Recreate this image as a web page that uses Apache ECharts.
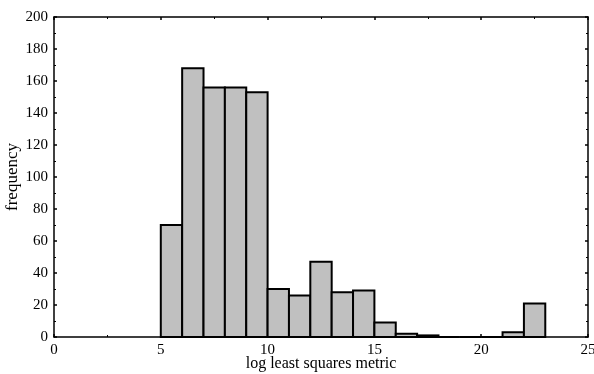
<!DOCTYPE html>
<html>
<head>
<meta charset="utf-8">
<script src="https://cdn.jsdelivr.net/npm/echarts@6/dist/echarts.min.js"></script>
<style>
  html, body { margin: 0; padding: 0; background: #fff; }
  #hist { width: 594px; height: 374px; }
</style>
</head>
<body>
<div id="hist"></div>
<script>
// histogram bins (left edge, width 1) and counts
const binStarts = [5, 6, 7, 8, 9, 10, 11, 12, 13, 14, 15, 16, 17, 18, 19, 20, 21, 22];
const counts = [70, 168, 156, 156, 153, 30, 26, 47, 28, 29, 9, 2, 1, 0, 0, 0, 3, 21];
const binWidth = 1;
const xTicks = [0, 5, 10, 15, 20, 25];
const yTicks = [0, 20, 40, 60, 80, 100, 120, 140, 160, 180, 200];

const chart = echarts.init(document.getElementById('hist'));

const font = 'Liberation Serif';
const frameAxis = {
  axisLine: { show: true, onZero: false, lineStyle: { color: '#000', width: 1.5 } },
  axisTick: { show: true, inside: true, length: 3, lineStyle: { color: '#000', width: 1.5 } },
  minorTick: { show: true, splitNumber: 2, length: 2, lineStyle: { color: '#000', width: 1 } },
  splitLine: { show: false }
};

const histData = binStarts.map((s, i) => [s, s + binWidth, counts[i]]);

const option = {
  animation: false,
  grid: { left: 54, right: 6, top: 17, bottom: 37, containLabel: false, outerBoundsMode: 'none' },
  xAxis: [
    Object.assign({
      type: 'value', min: xTicks[0], max: xTicks[xTicks.length - 1], interval: 5,
      name: 'log least squares metric', nameLocation: 'middle', nameGap: 19, nameMoveOverlap: false,
      nameTextStyle: { fontFamily: font, fontSize: 16, color: '#000' },
      axisLabel: { fontFamily: font, fontSize: 15, color: '#000', margin: 6 }
    }, frameAxis),
    Object.assign({
      type: 'value', position: 'top', min: 0, max: 25, interval: 5,
      axisLabel: { show: false }
    }, frameAxis)
  ],
  yAxis: [
    Object.assign({
      type: 'value', min: yTicks[0], max: yTicks[yTicks.length - 1], interval: 20,
      name: 'frequency', nameLocation: 'middle', nameGap: 33, nameMoveOverlap: false,
      nameTextStyle: { fontFamily: font, fontSize: 17, color: '#000' },
      axisLabel: { fontFamily: font, fontSize: 15, color: '#000', margin: 6 }
    }, frameAxis),
    Object.assign({
      type: 'value', position: 'right', min: 0, max: 200, interval: 20,
      axisLabel: { show: false }
    }, frameAxis)
  ],
  series: [{
    type: 'custom',
    xAxisIndex: 0,
    yAxisIndex: 0,
    encode: { x: [0, 1], y: 2 },
    data: histData,
    renderItem: function (params, api) {
      const p0 = api.coord([api.value(0), 0]);
      const p1 = api.coord([api.value(1), api.value(2)]);
      return {
        type: 'rect',
        shape: { x: p0[0], y: p1[1], width: p1[0] - p0[0], height: p0[1] - p1[1] },
        style: { fill: '#c0c0c0', stroke: '#000', lineWidth: 2 }
      };
    }
  }]
};

chart.setOption(option);
</script>
</body>
</html>
